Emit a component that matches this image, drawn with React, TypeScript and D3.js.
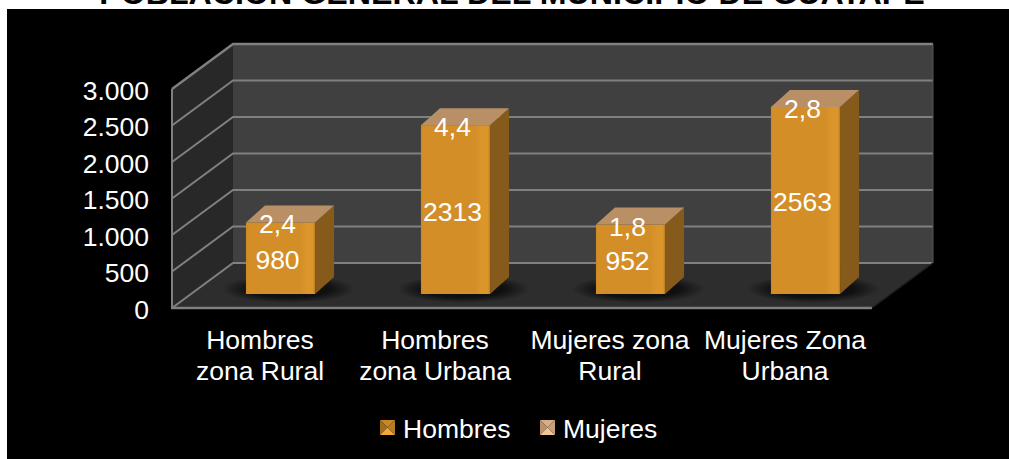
import React from "react";
import * as d3 from "d3";

const categories = [
  ["Hombres", "zona Rural"],
  ["Hombres", "zona Urbana"],
  ["Mujeres zona", "Rural"],
  ["Mujeres Zona", "Urbana"],
];
const hombres = [980, 2313, 952, 2563];
const mujeres = ["2,4", "4,4", "1,8", "2,8"];
const yTicks = [0, 500, 1000, 1500, 2000, 2500, 3000];
const legendNames = ["Hombres", "Mujeres"];

const FONT = "'Liberation Sans', Arial, sans-serif";
const LABEL_SIZE = 26.5;

// front plane of the 3d box, the back wall is shifted by depth
const depthX = 61;
const depthY = -45;
const barOffsetX = 21;
const barOffsetY = -14;
const barSideX = 19;
const barSideY = -17;

const x = d3.scaleBand<number>().domain([0, 1, 2, 3]).range([172, 872]).paddingInner(0.605).paddingOuter(0.3025);
const y = d3.scaleLinear().domain([0, 3000]).range([308, 89]);

const tickFormat = (v: number) => d3.format(",")(v).replace(",", ".");

const pts = (p: number[][]) => p.map((d) => d.join(",")).join(" ");

export default function App() {
  const left = x.range()[0];
  const right = x.range()[1];
  const y0 = y(0);
  const yTop = y(3000);
  return (
    <svg
      width={1009}
      height={459}
      style={{ position: "absolute", left: 0, top: 0, background: "#fff", fontFamily: FONT }}
    >
      <defs>
        <linearGradient id="barFront" x1="0" x2="1" y1="0" y2="0">
          <stop offset="0" stopColor="#c98826" />
          <stop offset="0.03" stopColor="#d38e28" />
          <stop offset="0.78" stopColor="#d38e28" />
          <stop offset="0.88" stopColor="#dc952a" />
          <stop offset="0.97" stopColor="#dc952a" />
          <stop offset="1" stopColor="#b87c22" />
        </linearGradient>
        <radialGradient id="shadow">
          <stop offset="0" stopColor="#0c0c0c" stopOpacity={1} />
          <stop offset="0.6" stopColor="#0c0c0c" stopOpacity={0.9} />
          <stop offset="1" stopColor="#0c0c0c" stopOpacity={0} />
        </radialGradient>
      </defs>

      <rect x={7} y={9} width={1002} height={450} fill="#000" />

      <text x={512} y={4} textAnchor="middle" fontSize={32.2} fontWeight="bold" fill="#000">
        POBLACIÓN GENERAL DEL MUNICIPIO DE GUATAPÉ
      </text>

      {/* walls and floor */}
      <rect x={left + depthX} y={yTop + depthY} width={right - left} height={y0 - yTop} fill="#404040" />
      <polygon
        points={pts([
          [left, yTop],
          [left + depthX, yTop + depthY],
          [left + depthX, y0 + depthY],
          [left, y0],
        ])}
        fill="#282828"
      />
      <polygon
        points={pts([
          [left, y0],
          [left + depthX, y0 + depthY],
          [right + depthX, y0 + depthY],
          [right, y0],
        ])}
        fill="#2d2d2d"
      />

      {/* gridlines */}
      {yTicks.map((t) => (
        <polyline
          key={t}
          points={pts([
            [left, y(t)],
            [left + depthX, y(t) + depthY],
            [right + depthX, y(t) + depthY],
          ])}
          fill="none"
          stroke="#808080"
          strokeWidth={t === 3000 ? 2.5 : 2}
        />
      ))}
      <line x1={left} x2={left} y1={yTop} y2={y0 + 1} stroke="#808080" strokeWidth={2} />
      <line x1={left - 1} x2={right} y1={y0} y2={y0} stroke="#808080" strokeWidth={2.5} />
      <line x1={right} x2={right + depthX} y1={y0} y2={y0 + depthY} stroke="#1c1c1c" strokeWidth={1.5} />
      <line x1={right + depthX} x2={right + depthX} y1={yTop + depthY} y2={y0 + depthY} stroke="#555" strokeWidth={1} />

      {/* y axis labels */}
      {yTicks.map((t) => (
        <text key={t} x={149} y={y(t) + 10.5} textAnchor="end" fontSize={LABEL_SIZE} fill="#fff">
          {tickFormat(t)}
        </text>
      ))}

      {/* floor shadows */}
      {hombres.map((_, i) => {
        const bx = x(i)! + barOffsetX;
        const bw = x.bandwidth();
        return (
          <ellipse
            key={i}
            cx={bx + bw / 2 + 8}
            cy={y0 + barOffsetY - 5}
            rx={bw / 2 + 32}
            ry={14}
            fill="url(#shadow)"
          />
        );
      })}

      {/* bars */}
      {hombres.map((v, i) => {
        const bx = x(i)! + barOffsetX;
        const bw = x.bandwidth();
        const by = y(v) + barOffsetY;
        const bb = y0 + barOffsetY;
        return (
          <g key={i}>
            <polygon
              points={pts([
                [bx + bw, by],
                [bx + bw + barSideX, by + barSideY],
                [bx + bw + barSideX, bb + barSideY],
                [bx + bw, bb],
              ])}
              fill="#855a1a"
            />
            <rect x={bx} y={by} width={bw} height={bb - by} fill="url(#barFront)" />
            <polygon
              points={pts([
                [bx, by],
                [bx + barSideX, by + barSideY],
                [bx + bw + barSideX, by + barSideY],
                [bx + bw, by],
              ])}
              fill="#b98f66"
            />
            <text x={bx + bw / 2 - 3} y={(by + bb) / 2 + 11} textAnchor="middle" fontSize={LABEL_SIZE} fill="#fff">
              {v}
            </text>
            <text x={bx + bw / 2 - 3} y={by + 11} textAnchor="middle" fontSize={LABEL_SIZE} fill="#fff">
              {mujeres[i]}
            </text>
          </g>
        );
      })}

      {/* category labels */}
      {categories.map((lines, i) => (
        <text key={i} textAnchor="middle" fontSize={LABEL_SIZE} fill="#fff">
          {lines.map((l, k) => (
            <tspan key={k} x={x(i)! + x.bandwidth() / 2 + 0.5} y={349 + k * 31}>
              {l}
            </tspan>
          ))}
        </text>
      ))}

      {/* legend */}
      {legendNames.map((name, i) => {
        const lx = i === 0 ? 380 : 540;
        const s = 15;
        const ly = 420;
        const shades = i === 0
          ? ["#c98826", "#a06c1e", "#f0a838", "#b87c22"]
          : ["#d8ae84", "#b8926c", "#f2c596", "#c8a078"];
        const cx = lx + s / 2;
        const cy = ly + s / 2;
        return (
          <g key={name}>
            <polygon points={pts([[lx, ly], [lx + s, ly], [cx, cy]])} fill={shades[0]} />
            <polygon points={pts([[lx, ly], [lx, ly + s], [cx, cy]])} fill={shades[1]} />
            <polygon points={pts([[lx, ly + s], [lx + s, ly + s], [cx, cy]])} fill={shades[2]} />
            <polygon points={pts([[lx + s, ly], [lx + s, ly + s], [cx, cy]])} fill={shades[3]} />
            <text x={lx + 23} y={438} fontSize={LABEL_SIZE} fill="#fff">
              {name}
            </text>
          </g>
        );
      })}
    </svg>
  );
}
